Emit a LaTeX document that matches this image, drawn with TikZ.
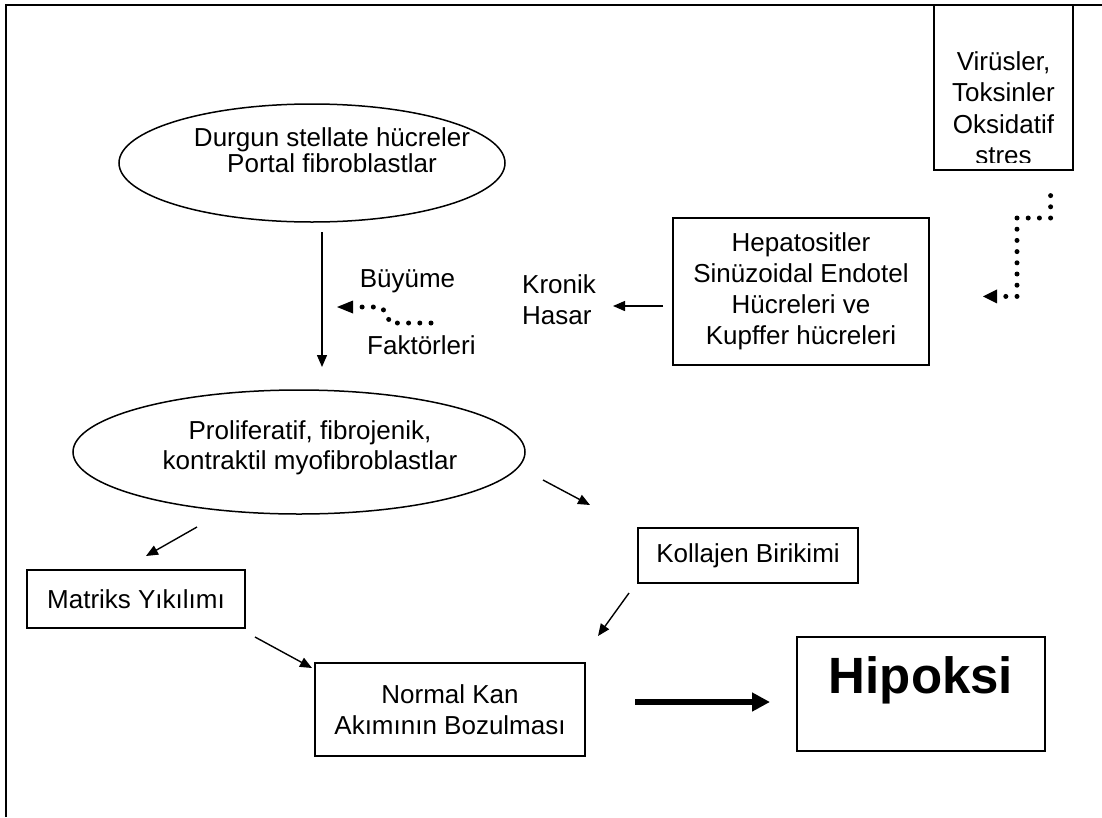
\documentclass[tikz,border=0pt]{standalone}
\usepackage{fontspec}
\setmainfont{Liberation Sans}
\usetikzlibrary{shapes.geometric,arrows.meta}
\begin{document}
\begin{tikzpicture}[x=1pt,y=-1pt,
  box/.style={draw, line width=1.5pt, inner sep=0pt, align=center, font=\fontsize{26}{31}\selectfont},
  ell/.style={draw, ellipse, line width=1.5pt, inner sep=0pt},
  txt/.style={inner sep=0pt, align=center, font=\fontsize{26}{31}\selectfont},
  arr/.style={line width=1.4pt, -{Triangle[length=12pt,width=10pt]}},
  thickarr/.style={line width=6pt, -{Triangle[length=18pt,width=18pt]}},
  dotline/.style={line width=5pt, line cap=round, dash pattern=on 0pt off 11.2pt},
]
\useasboundingbox (0,0) rectangle (1102,817);
\fill[white] (0,0) rectangle (1102,817);
\draw[line width=2pt] (6,817) -- (6,5) -- (1102,5);

% top right box with clipped text
\node[box, minimum width=139, minimum height=165] (vir) at (1003.5,87.5) {};
\begin{scope}
  \clip (935,6) rectangle (1072,162);
  \node[txt, anchor=north, font=\fontsize{26}{31.5}\selectfont] (virtxt) at (1003.5,51) {Virüsler,\\Toksinler\\Oksidatif\\stres};
\end{scope}

% dotted arrow from virus box
\coordinate (d1a) at (1050.6,195.6);
\coordinate (d1b) at (1050.6,218);
\coordinate (d1c) at (1017,218);
\coordinate (d1d) at (1017,296.4);
\coordinate (d1e) at (1005.8,296.4);
\draw[dotline] (d1a) -- (d1b) -- (d1c) -- (d1d) -- (d1e);
\fill (983,296.4) -- (997,289.4) -- (997,303.4) -- cycle;

% Hepatositler
\node[box, minimum width=256, minimum height=147] (hep) at (801,291.5) {Hepatositler\\Sinüzoidal Endotel\\Hücreleri ve\\Kupffer hücreleri};

% Kronik Hasar
\node[txt, align=left, anchor=west] (kh) at (522,300) {Kronik\\Hasar};
\coordinate (kha) at (663,306);
\coordinate (khb) at (613,306);
\draw[arr] (kha) -- (khb);

% ellipse 1
\node[ell, minimum width=386, minimum height=118] (e1) at (312,163) {};
\node[txt, font=\fontsize{26}{26}\selectfont] (e1t) at (332,150.5) {Durgun stellate hücreler\\Portal fibroblastlar};

% vertical arrow
\coordinate (va1) at (322,232);
\coordinate (va2) at (322,367);
\draw[arr] (va1) -- (va2);

% Buyume faktorleri
\node[txt, anchor=base] (buy) at (407.5,287) {Büyüme};
\node[txt, anchor=base west] (fak) at (367,354) {Faktörleri};
\coordinate (d2a) at (431,323);
\coordinate (d2b) at (390,323);
\coordinate (d2c) at (386,312);
\coordinate (d2d) at (380,307);
\coordinate (d2e) at (358,307);
\draw[dotline] (d2a) -- (d2b) -- (d2c) -- (d2d) -- (d2e);
\fill (337,307) -- (353,300.5) -- (353,313.5) -- cycle;

% ellipse 2
\node[ell, minimum width=452, minimum height=124] (e2) at (299,452) {};
\node[txt, font=\fontsize{26}{30}\selectfont] (e2t) at (310,448) {Proliferatif, fibrojenik,\\kontraktil myofibroblastlar};

% lower boxes
\node[box, minimum width=218, minimum height=58] (mat) at (136,599) {Matriks Yıkılımı};
\node[box, minimum width=220, minimum height=55] (kol) at (748,555.5) {Kollajen Birikimi};
\node[box, minimum width=270, minimum height=93] (nk) at (450,709.5) {Normal Kan\\Akımının Bozulması};
\node[box, minimum width=248, minimum height=114] (hip) at (921,694) {};
\node[inner sep=0pt, anchor=base, font=\bfseries\fontsize{51}{51}\selectfont] (hipt) at (921,693) {Hipoksi};

% arrows
\coordinate (a3s) at (197,527); \coordinate (a3e) at (146,556);
\coordinate (a4s) at (543,480); \coordinate (a4e) at (590,505);
\coordinate (a5s) at (255,637); \coordinate (a5e) at (312,668);
\coordinate (a6s) at (629,593); \coordinate (a6e) at (598,636);
\coordinate (a7s) at (635,702); \coordinate (a7e) at (770,702);
\draw[arr] (a3s) -- (a3e);
\draw[arr] (a4s) -- (a4e);
\draw[arr] (a5s) -- (a5e);
\draw[arr] (a6s) -- (a6e);
\draw[thickarr] (a7s) -- (a7e);
\end{tikzpicture}
\end{document}
